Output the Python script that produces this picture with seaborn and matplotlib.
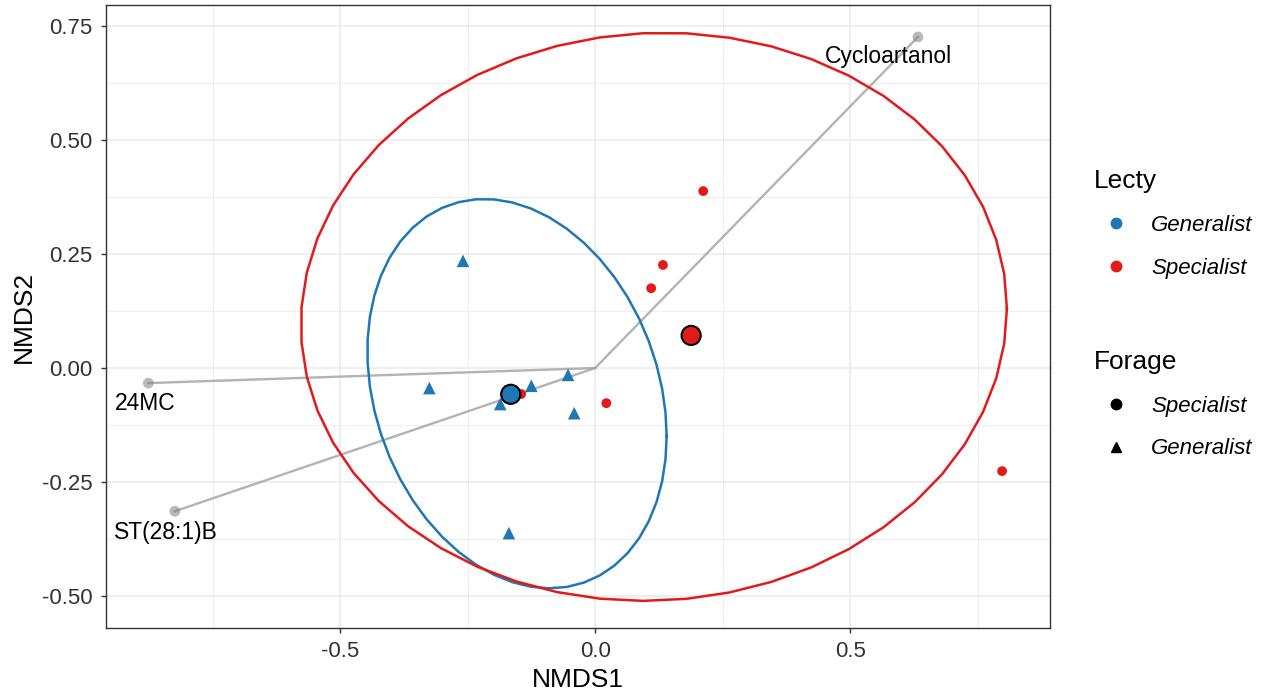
import numpy as np
import pandas as pd
import seaborn as sns
import matplotlib
matplotlib.use("Agg")
import matplotlib.pyplot as plt
from matplotlib.lines import Line2D

# sample scores
gen_x = [-0.259, -0.325, -0.186, -0.125, -0.053, -0.041, -0.169]
gen_y = [0.235, -0.044, -0.079, -0.039, -0.015, -0.099, -0.362]
spe_x = [0.212, 0.133, 0.110, 0.022, 0.798, -0.145]
spe_y = [0.388, 0.226, 0.175, -0.077, -0.226, -0.057]

# fitted vectors
vec_names = ["24MC", "ST(28:1)B", "Cycloartanol"]
vec_x = [-0.876, -0.824, 0.633]
vec_y = [-0.033, -0.314, 0.726]

df = pd.DataFrame({
    "NMDS1": gen_x + spe_x,
    "NMDS2": gen_y + spe_y,
    "Lecty": ["Generalist"] * len(gen_x) + ["Specialist"] * len(spe_x),
    "Forage": ["Generalist"] * len(gen_x) + ["Specialist"] * len(spe_x),
})

pal = {"Generalist": "#1F78B4", "Specialist": "#E31A1C"}
shapes = {"Specialist": "o", "Generalist": "^"}
msizes = {"Specialist": 50, "Generalist": 82}


def cov_trob(x, nu=5, maxit=25, tol=0.01):
    # same as MASS::cov.trob, used by stat_ellipse
    n, p = x.shape
    wt = np.ones(n)
    loc = x.mean(axis=0)
    w = np.sqrt(wt)
    for _ in range(maxit):
        w0 = w
        X = x - loc
        _, d, vt = np.linalg.svd(np.sqrt(w / w.sum())[:, None] * X, full_matrices=False)
        wX = X @ vt.T @ np.diag(1 / d)
        Q = (wX ** 2).sum(axis=1)
        w = (wt * (nu + p)) / (nu + Q)
        loc = (w[:, None] * x).sum(axis=0) / w.sum()
        if np.all(np.abs(w - w0) < tol):
            break
    sX = np.sqrt(w)[:, None] * X
    return loc, sX.T @ sX / wt.sum()


# qf(0.95, 2, n - 1)
f95 = {7: 5.143253, 6: 5.786135}

plt.rcParams["font.family"] = ["Liberation Sans", "DejaVu Sans"]
fig = plt.figure(figsize=(12.74, 6.94), dpi=100)
ax = fig.add_axes([0.0832, 0.0951, 0.741, 0.8977])

ax.set_xlim(-0.959, 0.892)
ax.set_ylim(-0.570, 0.796)
ax.set_xticks([-0.5, 0.0, 0.5])
ax.set_xticklabels(["-0.5", "0.0", "0.5"])
ax.set_yticks([-0.5, -0.25, 0.0, 0.25, 0.5, 0.75])
ax.set_yticklabels(["-0.50", "-0.25", "0.00", "0.25", "0.50", "0.75"])
ax.set_xticks([-0.75, -0.25, 0.25, 0.75], minor=True)
ax.set_yticks([-0.375, -0.125, 0.125, 0.375, 0.625], minor=True)
ax.grid(True, which="major", color="#EBEBEB", lw=1.1, zorder=0)
ax.grid(True, which="minor", color="#EBEBEB", lw=0.55, zorder=0)
ax.set_axisbelow(True)
ax.tick_params(which="major", length=3.6, width=1, color="#333333",
               labelsize=16, labelcolor="#333333", pad=6)
ax.tick_params(which="minor", length=0)
for s in ax.spines.values():
    s.set_color("#333333")
    s.set_linewidth(1)

# vectors
for name, vx, vy in zip(vec_names, vec_x, vec_y):
    ax.plot([0, vx], [0, vy], color="#A6A6A6", lw=1.7, alpha=0.85, zorder=2)
    ax.scatter([vx], [vy], s=60, color="#808080", alpha=0.55, zorder=2, edgecolors="none")
offsets = {"24MC": (-2, -15), "ST(28:1)B": (-6.5, -15), "Cycloartanol": (-21.5, -14)}
for name, vx, vy in zip(vec_names, vec_x, vec_y):
    ax.annotate(name, (vx, vy), xytext=offsets[name], textcoords="offset points",
                ha="center", va="center", fontsize=16.5, color="black", zorder=3)

# ellipses
t = np.linspace(0, 2 * np.pi, 52)
circle = np.column_stack([np.cos(t), np.sin(t)])
for grp, sub in df.groupby("Lecty"):
    pts = sub[["NMDS1", "NMDS2"]].to_numpy()
    center, shape = cov_trob(pts)
    r = np.sqrt(2 * f95[len(pts)])
    ell = center + r * circle @ np.linalg.cholesky(shape).T
    ax.plot(ell[:, 0], ell[:, 1], color=pal[grp], lw=1.8, zorder=3)

sns.scatterplot(data=df, x="NMDS1", y="NMDS2", hue="Lecty", style="Forage",
                size="Forage", sizes=msizes, palette=pal, markers=shapes,
                edgecolor="none", legend=False, ax=ax, zorder=4)

cent = df.groupby("Lecty", as_index=False)[["NMDS1", "NMDS2"]].mean()
sns.scatterplot(data=cent, x="NMDS1", y="NMDS2", hue="Lecty", palette=pal,
                s=190, edgecolor="black", linewidth=1.5, legend=False, ax=ax, zorder=5)

ax.set_xlabel("NMDS1", fontsize=19, labelpad=4)
ax.set_ylabel("NMDS2", fontsize=19, labelpad=4.5)

# legends
h1 = [Line2D([], [], marker="o", ls="", color=pal[k], markersize=7.5) for k in ["Generalist", "Specialist"]]
leg1 = fig.legend(h1, ["Generalist", "Specialist"], title="Lecty",
                  loc="upper left", bbox_to_anchor=(0.8426, 0.785), frameon=False,
                  prop={"size": 16, "style": "italic"}, title_fontsize=19,
                  handletextpad=0.6, labelspacing=0.985, alignment="left")
h2 = [Line2D([], [], marker=m, ls="", color="black", markersize=7.5) for m in ["o", "^"]]
leg2 = fig.legend(h2, ["Specialist", "Generalist"], title="Forage",
                  loc="upper left", bbox_to_anchor=(0.8426, 0.525), frameon=False,
                  prop={"size": 16, "style": "italic"}, title_fontsize=19,
                  handletextpad=0.6, labelspacing=0.985, alignment="left")

fig.savefig("out.png", dpi=100)
